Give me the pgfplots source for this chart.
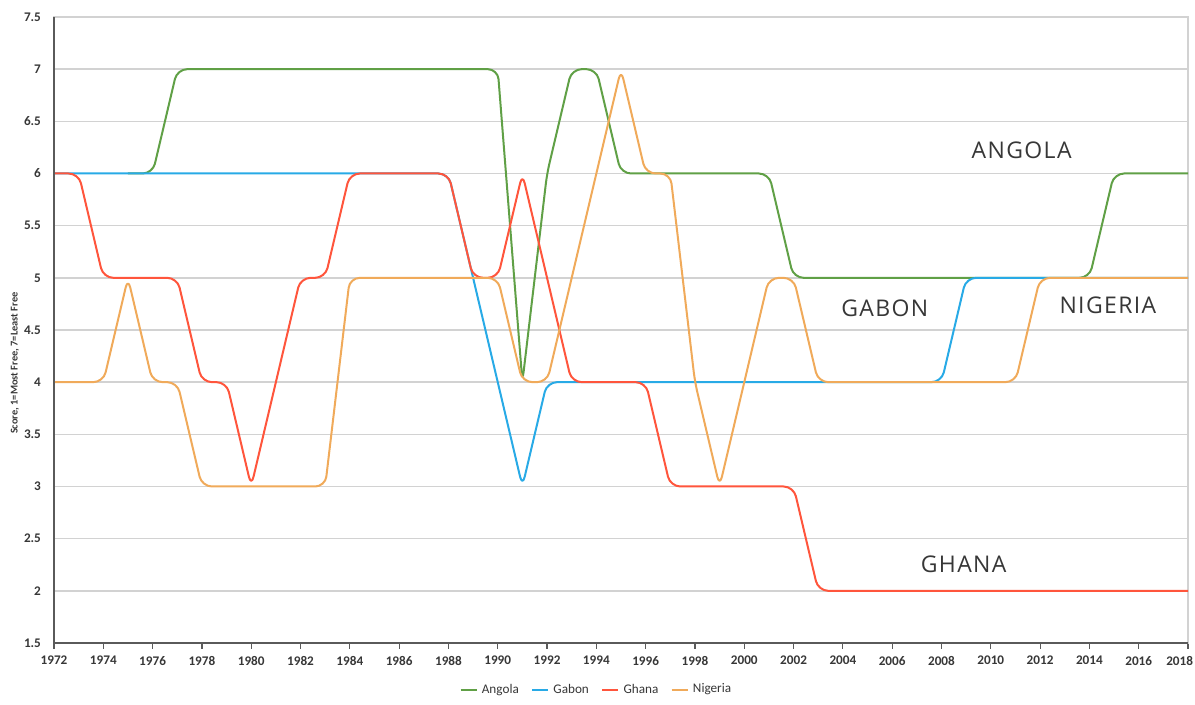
\documentclass[border=0pt]{standalone}
\usepackage{fontspec}
\setmainfont{Carlito}
\newfontfamily\annofont[LetterSpace=6]{Open Sans}
\usepackage{pgfplots}
\pgfplotsset{compat=1.18}
\definecolor{angolagreen}{RGB}{96,160,70}
\definecolor{gabonblue}{RGB}{40,170,230}
\definecolor{ghanared}{RGB}{255,85,60}
\definecolor{nigeriaorange}{RGB}{240,170,90}
\definecolor{gridgray}{RGB}{210,210,210}
\definecolor{axisgray}{RGB}{90,90,90}
\definecolor{labelgray}{RGB}{55,55,55}

\begin{document}
\begin{tikzpicture}
\begin{axis}[
  name=ax,
  width=567pt, height=313pt, scale only axis,
  xmin=1972, xmax=2018,
  ymin=1.5, ymax=7.5,
  xtick={1972,1974,...,2018},
  xticklabels={1972,1974,1976,1978,1980,1982,1984,1986,1988,1990,1992,1994,1996,1998,
    2000,2002,2004,2006,2008,2010,2012,2014,2016,{\makebox[0pt][r]{2018\kern-2.5pt}}},
  ytick={1.5,2,...,7.5},
  tick pos=left,
  ymajorgrids,
  grid style={gridgray, line width=0.8pt},
  axis line style={draw=gridgray, line width=0.6pt},
  tick align=outside,
  major tick length=3pt,
  xtick style={axisgray, line width=0.6pt},
  ytick style={draw=none},
  /pgf/number format/assume math mode=true,
  xticklabel style={font=\fontsize{6.6}{7.5}\selectfont\bfseries, text=labelgray},
  yticklabel style={font=\fontsize{6.6}{7.5}\selectfont\bfseries, text=labelgray},
  ylabel={Score, 1=Most Free, 7=Least Free},
  every axis y label/.style={at={(axis description cs:-0.0344,0.447)}, rotate=90, anchor=center,
    font=\fontsize{5.2}{6}\selectfont\bfseries, text=labelgray},
  legend style={at={(axis description cs:0.479,-0.075)}, anchor=center,
    draw=none, font=\fontsize{6.6}{7.5}\selectfont, text=labelgray,
    /tikz/every even column/.append style={column sep=4pt}},
  legend columns=4,
  legend image post style={line width=1.3pt, sharp corners},
  legend image code/.code={\draw[#1] (0pt,0pt) -- (8pt,0pt);},
  every axis plot/.append style={line width=1pt, sharp plot, rounded corners=5pt, line join=round},
]
% Angola
\addplot[angolagreen] coordinates {
(1975,6)(1976,6)(1977,7)(1978,7)(1979,7)(1980,7)(1981,7)(1982,7)(1983,7)(1984,7)
(1985,7)(1986,7)(1987,7)(1988,7)(1989,7)(1990,7)(1991,4)(1992,6)(1993,7)(1994,7)
(1995,6)(1996,6)(1997,6)(1998,6)(1999,6)(2000,6)(2001,6)(2002,5)(2003,5)(2004,5)
(2005,5)(2006,5)(2007,5)(2008,5)(2009,5)(2010,5)(2011,5)(2012,5)(2013,5)(2014,5)
(2015,6)(2016,6)(2017,6)(2018,6)};
\addlegendentry{Angola}
% Gabon
\addplot[gabonblue] coordinates {
(1972,6)(1973,6)(1974,6)(1975,6)(1976,6)(1977,6)(1978,6)(1979,6)(1980,6)(1981,6)
(1982,6)(1983,6)(1984,6)(1985,6)(1986,6)(1987,6)(1988,6)(1989,5)(1990,4)(1991,3)
(1992,4)(1993,4)(1994,4)(1995,4)(1996,4)(1997,4)(1998,4)(1999,4)(2000,4)(2001,4)
(2002,4)(2003,4)(2004,4)(2005,4)(2006,4)(2007,4)(2008,4)(2009,5)(2010,5)(2011,5)
(2012,5)(2013,5)(2014,5)(2015,5)(2016,5)(2017,5)(2018,5)};
\addlegendentry{Gabon}
% Ghana
\addplot[ghanared] coordinates {
(1972,6)(1973,6)(1974,5)(1975,5)(1976,5)(1977,5)(1978,4)(1979,4)(1980,3)(1981,4)
(1982,5)(1983,5)(1984,6)(1985,6)(1986,6)(1987,6)(1988,6)(1989,5)(1990,5)(1991,6)
(1992,5)(1993,4)(1994,4)(1995,4)(1996,4)(1997,3)(1998,3)(1999,3)(2000,3)(2001,3)
(2002,3)(2003,2)(2004,2)(2005,2)(2006,2)(2007,2)(2008,2)(2009,2)(2010,2)(2011,2)
(2012,2)(2013,2)(2014,2)(2015,2)(2016,2)(2017,2)(2018,2)};
\addlegendentry{Ghana}
% Nigeria
\addplot[nigeriaorange] coordinates {
(1972,4)(1973,4)(1974,4)(1975,5)(1976,4)(1977,4)(1978,3)(1979,3)(1980,3)(1981,3)
(1982,3)(1983,3)(1984,5)(1985,5)(1986,5)(1987,5)(1988,5)(1989,5)(1990,5)(1991,4)
(1992,4)(1993,5)(1994,6)(1995,7)(1996,6)(1997,6)(1998,4)(1999,3)(2000,4)(2001,5)
(2002,5)(2003,4)(2004,4)(2005,4)(2006,4)(2007,4)(2008,4)(2009,4)(2010,4)(2011,4)
(2012,5)(2013,5)(2014,5)(2015,5)(2016,5)(2017,5)(2018,5)};
\addlegendentry{Nigeria}
% country annotations
\node[font=\annofont\fontsize{11.5}{13}\selectfont, text=labelgray] at (axis cs:2011.25,6.22) {ANGOLA};
\node[font=\annofont\fontsize{11.5}{13}\selectfont, text=labelgray] at (axis cs:2005.7,4.71) {GABON};
\node[font=\annofont\fontsize{11.5}{13}\selectfont, text=labelgray] at (axis cs:2014.75,4.74) {NIGERIA};
\node[font=\annofont\fontsize{11.5}{13}\selectfont, text=labelgray] at (axis cs:2008.9,2.25) {GHANA};
\end{axis}
\draw[axisgray, line width=0.7pt] (ax.north west) -- (ax.south west) -- (ax.south east);
\path ([xshift=-27pt,yshift=-27.5pt]ax.south west) rectangle ([xshift=3.5pt,yshift=8.5pt]ax.north east);
\end{tikzpicture}
\end{document}
